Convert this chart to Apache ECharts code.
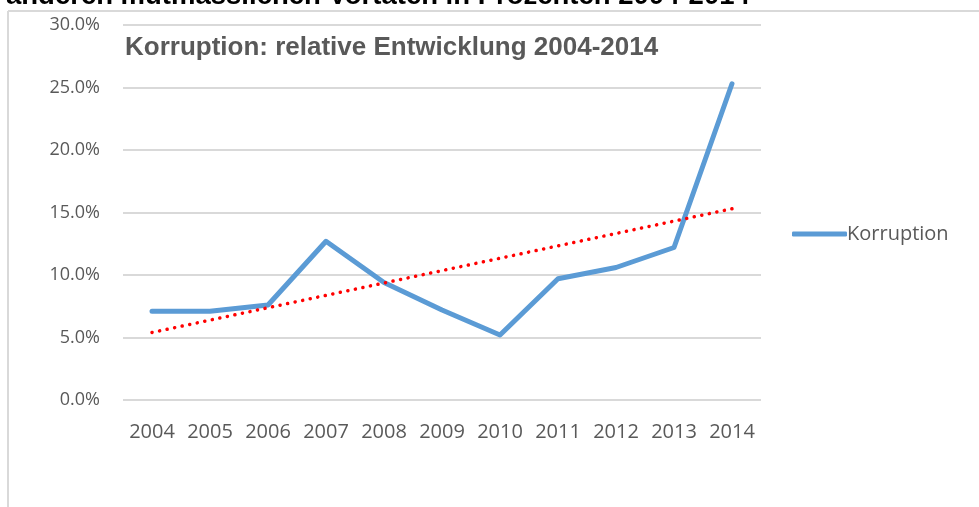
<!DOCTYPE html>
<html>
<head>
<meta charset="utf-8">
<script src="https://cdn.jsdelivr.net/npm/echarts@6/dist/echarts.min.js"></script>
<style>html,body{margin:0;padding:0;background:#fff;}#c{width:979px;height:507px;}</style>
</head>
<body>
<div id="c"></div>
<script>
const years = ['2004','2005','2006','2007','2008','2009','2010','2011','2012','2013','2014'];
const korruption = [7.1, 7.1, 7.6, 12.7, 9.4, 7.2, 5.2, 9.7, 10.6, 12.2, 25.3];
const trend = [5.4, null, null, null, null, null, null, null, null, null, 15.3];
const yTicks = { min: 0, max: 30, step: 5 };
const pageTitle = 'anderen mutmasslichen Vortaten in Prozenten 2004-2014';
const chartTitle = 'Korruption: relative Entwicklung 2004-2014';

const chart = echarts.init(document.getElementById('c'));
const labelFont = '"Open Sans", "Liberation Sans", sans-serif';
chart.setOption({
  animation: false,
  grid: { left: 123, right: 218, top: 25, bottom: 107, containLabel: false },
  title: {
    text: chartTitle, left: 120, top: 30,
    textStyle: { fontFamily: '"Liberation Sans", Arial, sans-serif', fontSize: 26, fontWeight: 'bold', color: '#595959' }
  },
  legend: {
    data: [{ name: 'Korruption' }], orient: 'vertical', left: 787, top: 219,
    itemWidth: 55, itemHeight: 5, itemGap: 4,
    icon: 'roundRect',
    textStyle: { fontFamily: labelFont, fontSize: 20, color: '#595959', padding: [0,0,0,-5] }
  },
  xAxis: {
    type: 'category', data: years, boundaryGap: true,
    axisLine: { show: false }, axisTick: { show: false },
    axisLabel: { interval: 0, fontFamily: labelFont, fontSize: 20, color: '#595959', margin: 22 }
  },
  yAxis: {
    type: 'value', min: yTicks.min, max: yTicks.max, interval: yTicks.step,
    axisLine: { show: false }, axisTick: { show: false },
    splitLine: { lineStyle: { color: '#d9d9d9', width: 2 } },
    axisLabel: { fontFamily: labelFont, fontSize: 18, color: '#595959', margin: 23,
      formatter: v => v.toFixed(1) + '%' }
  },
  series: [
    { name: 'Korruption', type: 'line', data: korruption, symbol: 'none',
      lineStyle: { color: '#5B9BD5', width: 5, cap: 'round', join: 'round' },
      itemStyle: { color: '#5B9BD5' }, z: 3 },
    { name: 'Trend', type: 'line', data: trend, symbol: 'none', connectNulls: true,
      lineStyle: { color: '#FF0000', width: 3.5, type: [0.1, 7.6], cap: 'round' }, z: 4 }
  ],
  graphic: [
    { type: 'line', shape: { x1: 8, y1: 11, x2: 979, y2: 11 }, style: { stroke: '#d9d9d9', lineWidth: 2 } },
    { type: 'line', shape: { x1: 8, y1: 11, x2: 8, y2: 507 }, style: { stroke: '#d9d9d9', lineWidth: 2 } },
    { type: 'text', left: 6, top: -18,
      style: { text: pageTitle, fontFamily: '"Liberation Sans", Arial, sans-serif', fontSize: 27.5, fontWeight: 'bold', fill: '#000' } }
  ]
});
</script>
</body>
</html>
